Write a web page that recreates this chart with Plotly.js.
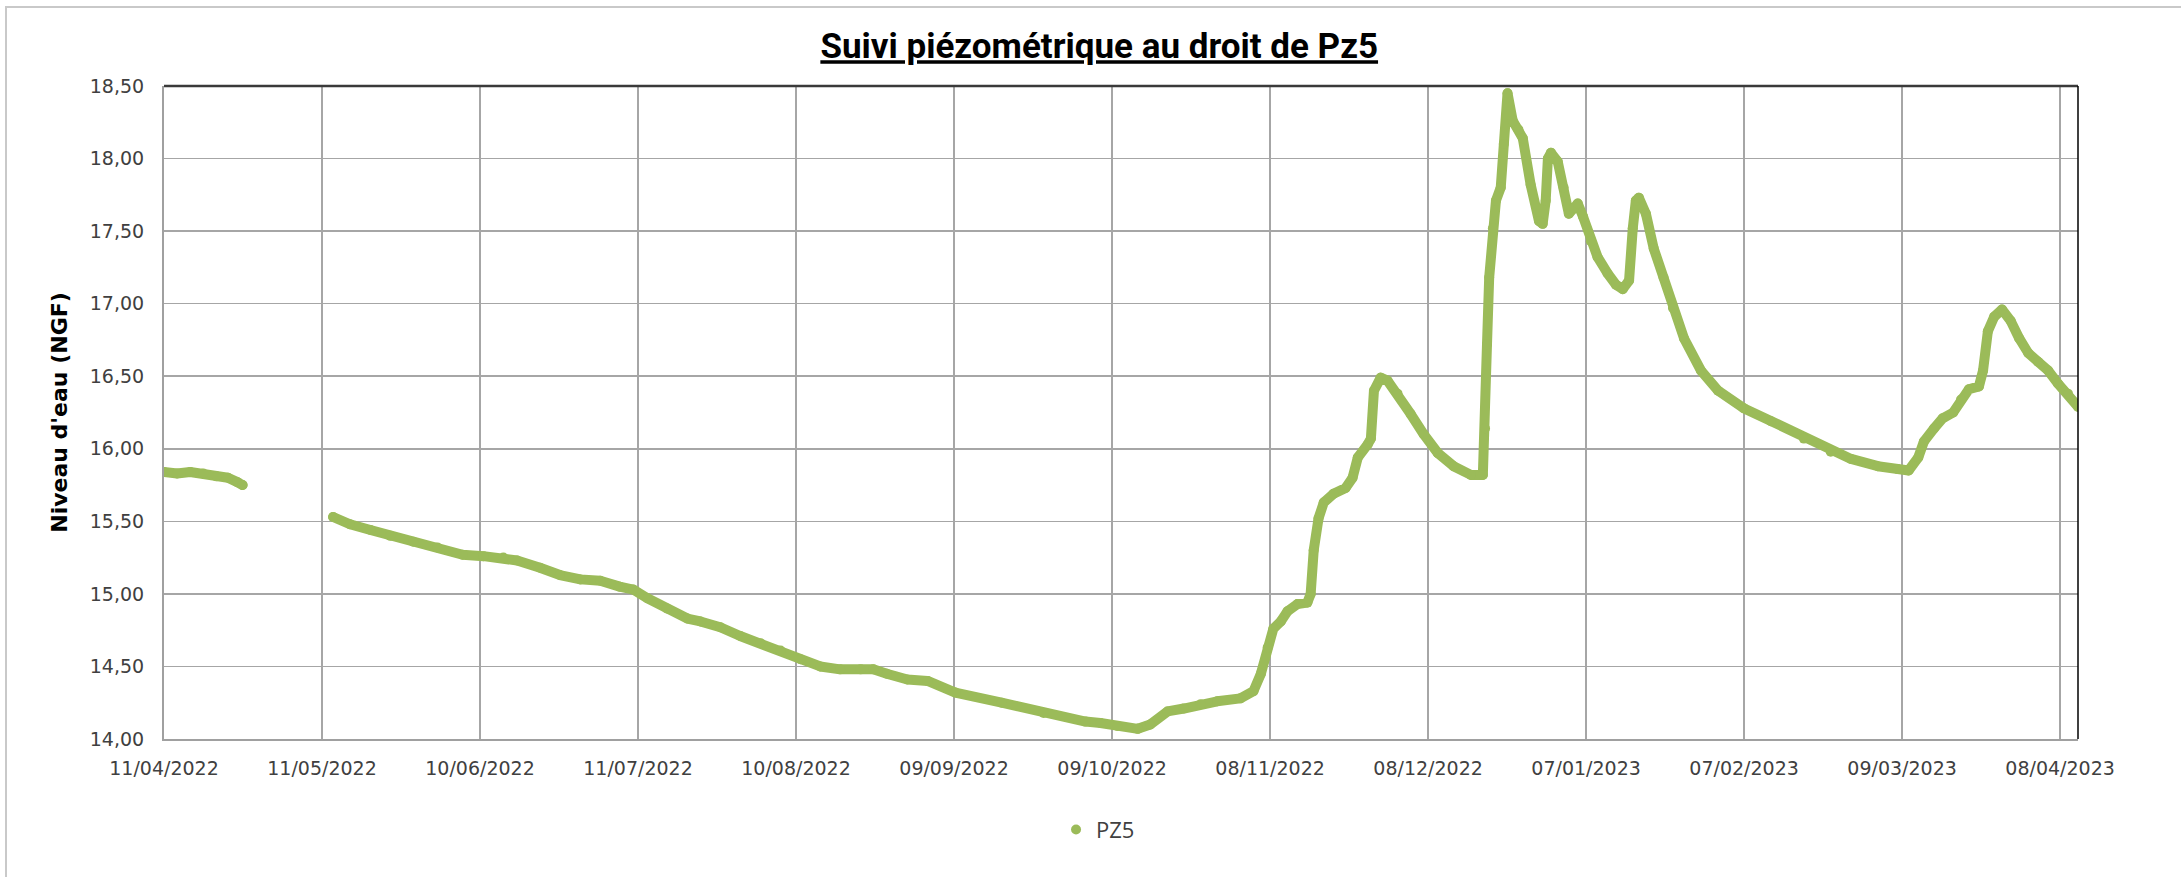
<!DOCTYPE html>
<html>
<head>
<meta charset="utf-8">
<script src="https://cdn.plot.ly/plotly-3.0.1.min.js"></script>
<style>
  html, body { margin: 0; padding: 0; background: #fff; overflow: hidden; }
  #wrap { position: relative; width: 2181px; height: 877px; }
  #chart { position: absolute; left: 0; top: 0; width: 2181px; height: 877px; }
  #frame { position: absolute; left: 5px; top: 6px; width: 2200px; height: 900px;
           border-left: 2px solid #c9c9c9; border-top: 2px solid #c9c9c9; pointer-events: none; }
  .scatterlayer .js-line { stroke-linejoin: round !important; stroke-linecap: round !important; }
</style>
</head>
<body>
<div id="wrap"><div id="chart"></div><div id="frame"></div></div>
<script>
// ---- Data ----
const seriesName = "PZ5";
const chartTitle = "Suivi piézométrique au droit de Pz5";
const yTitle = "Niveau d'eau (NGF)";

const dates = [
  "2022-04-11 00:00","2022-04-13 12:00","2022-04-16 00:00","2022-04-18 12:00","2022-04-21 00:00",
  "2022-04-23 05:00","2022-04-25 00:00","2022-04-26 00:00",
  "2022-05-01 00:00",
  "2022-05-13 07:00","2022-05-16 12:00","2022-05-20 10:00","2022-05-24 05:00","2022-05-28 14:00",
  "2022-06-02 05:00","2022-06-07 00:00","2022-06-11 00:00","2022-06-14 19:00","2022-06-17 10:00",
  "2022-06-21 19:00","2022-06-25 14:00","2022-06-29 12:00","2022-07-03 07:00","2022-07-07 00:00",
  "2022-07-09 14:00","2022-07-12 07:00","2022-07-16 00:00","2022-07-19 22:00","2022-07-22 10:00",
  "2022-07-26 05:00","2022-07-30 00:00","2022-08-02 22:00","2022-08-06 17:00","2022-08-10 12:00",
  "2022-08-14 07:00","2022-08-18 02:00","2022-08-22 00:00","2022-08-24 10:00","2022-08-27 00:00",
  "2022-08-30 22:00","2022-09-03 19:00","2022-09-09 02:00","2022-09-17 22:00","2022-09-25 22:00",
  "2022-10-03 22:00","2022-10-06 19:00","2022-10-10 00:00","2022-10-13 22:00","2022-10-16 07:00",
  "2022-10-19 14:00","2022-10-22 17:00","2022-10-25 22:00","2022-10-29 02:00","2022-11-02 12:00",
  "2022-11-05 00:00","2022-11-06 10:00","2022-11-07 17:00","2022-11-08 19:00","2022-11-10 05:00",
  "2022-11-11 12:00","2022-11-13 10:00","2022-11-15 07:00","2022-11-15 22:00","2022-11-16 12:00",
  "2022-11-17 10:00","2022-11-18 10:00","2022-11-20 07:00","2022-11-22 14:00","2022-11-23 22:00",
  "2022-11-24 22:00","2022-11-26 19:00","2022-11-27 10:00","2022-11-28 00:00","2022-11-29 07:00",
  "2022-11-30 14:00","2022-12-02 12:00","2022-12-05 00:00","2022-12-07 12:00","2022-12-10 05:00",
  "2022-12-13 05:00","2022-12-16 12:00","2022-12-18 19:00","2022-12-19 05:00","2022-12-19 14:00",
  "2022-12-20 00:00","2022-12-20 17:00","2022-12-21 07:00","2022-12-22 05:00","2022-12-22 19:00",
  "2022-12-23 12:00","2022-12-24 12:00","2022-12-25 14:00","2022-12-26 10:00","2022-12-27 22:00",
  "2022-12-29 12:00","2022-12-30 05:00","2022-12-30 19:00","2022-12-31 05:00","2022-12-31 19:00",
  "2023-01-02 02:00","2023-01-03 05:00","2023-01-04 05:00","2023-01-05 05:00","2023-01-05 22:00",
  "2023-01-06 22:00","2023-01-08 10:00","2023-01-09 17:00","2023-01-11 14:00","2023-01-13 05:00",
  "2023-01-14 12:00","2023-01-15 17:00","2023-01-16 10:00","2023-01-17 00:00","2023-01-17 14:00",
  "2023-01-18 22:00","2023-01-20 10:00","2023-01-22 07:00","2023-01-24 02:00","2023-01-26 05:00",
  "2023-01-29 10:00","2023-02-01 17:00","2023-02-06 14:00","2023-02-11 19:00","2023-02-18 02:00",
  "2023-02-23 05:00","2023-02-27 02:00","2023-03-04 05:00","2023-03-08 00:00","2023-03-10 02:00",
  "2023-03-11 22:00","2023-03-13 00:00","2023-03-14 22:00","2023-03-16 14:00","2023-03-18 14:00",
  "2023-03-20 02:00","2023-03-21 14:00","2023-03-23 12:00","2023-03-24 07:00","2023-03-25 05:00",
  "2023-03-26 10:00","2023-03-27 22:00","2023-03-29 14:00","2023-03-31 05:00","2023-04-01 22:00",
  "2023-04-03 19:00","2023-04-05 17:00","2023-04-07 14:00","2023-04-09 12:00","2023-04-11 10:00"
];

const levels = [
  15.84,15.83,15.84,15.83,15.81,
  15.80,15.77,15.75,
  null,
  15.53,15.48,15.44,15.40,15.36,
  15.32,15.27,15.26,15.25,15.23,
  15.18,15.13,15.10,15.09,15.05,
  15.03,14.97,14.90,14.83,14.81,
  14.77,14.71,14.66,14.61,14.55,
  14.50,14.48,14.48,14.48,14.45,
  14.41,14.40,14.32,14.25,14.18,
  14.12,14.11,14.09,14.07,14.10,
  14.19,14.21,14.24,14.26,14.28,
  14.33,14.45,14.63,14.76,14.81,
  14.88,14.93,14.94,15.00,15.30,
  15.52,15.63,15.69,15.73,15.80,
  15.94,16.03,16.07,16.40,16.49,
  16.47,16.38,16.24,16.10,15.97,
  15.88,15.82,15.82,16.14,16.72,
  17.18,17.52,17.71,17.80,18.10,
  18.45,18.26,18.20,18.14,17.82,
  17.57,17.55,17.71,18.00,18.04,
  17.98,17.80,17.62,17.66,17.69,
  17.60,17.43,17.32,17.21,17.13,
  17.10,17.16,17.52,17.71,17.73,
  17.62,17.38,17.18,16.97,16.76,
  16.54,16.40,16.28,16.19,16.07,
  15.98,15.93,15.88,15.86,15.85,
  15.94,16.05,16.14,16.21,16.25,
  16.34,16.41,16.43,16.54,16.81,
  16.91,16.96,16.88,16.76,16.66,
  16.60,16.54,16.45,16.38,16.29
];

const xTickLabels = ["11/04/2022","11/05/2022","10/06/2022","11/07/2022","10/08/2022","09/09/2022",
  "09/10/2022","08/11/2022","08/12/2022","07/01/2023","07/02/2023","09/03/2023","08/04/2023"];
const yTickValues = [14.0, 14.5, 15.0, 15.5, 16.0, 16.5, 17.0, 17.5, 18.0, 18.5];
const yTickLabels = ["14,00","14,50","15,00","15,50","16,00","16,50","17,00","17,50","18,00","18,50"];

// ---- helpers ----
function parseFr(s) { const p = s.split("/"); return Date.UTC(+p[2], +p[1] - 1, +p[0]); }
function fmt(ms) { return new Date(ms).toISOString().slice(0, 19).replace("T", " "); }

// Excel-like evenly spaced major gridlines between first and last labelled dates
const t0 = parseFr(xTickLabels[0]);
const t1 = parseFr(xTickLabels[xTickLabels.length - 1]);
const step = (t1 - t0) / (xTickLabels.length - 1);
const xTickVals = xTickLabels.map((_, i) => fmt(t0 + i * step));
const xRange = [dates[0], dates[dates.length - 1]];

const green = "#9BBB59";

const traces = [
  { x: dates, y: levels, type: "scatter", mode: "lines", connectgaps: false,
    line: { color: green, width: 10 }, showlegend: false, hoverinfo: "skip" },
  { x: dates, y: levels, type: "scatter", mode: "markers", name: seriesName,
    marker: { color: green, size: 10 } }
];

const tickFont = { family: "DejaVu Sans, sans-serif", color: "#404040" };

const layout = {
  width: 2181, height: 877,
  margin: { l: 164, r: 103, t: 86, b: 138 },
  paper_bgcolor: "#ffffff", plot_bgcolor: "#ffffff",
  title: {
    text: chartTitle,
    font: { family: "Roboto, sans-serif", size: 35, color: "#000", weight: "bold", lineposition: "under" },
    xref: "container", x: 0.504, xanchor: "center",
    yref: "container", y: 1 - 46 / 877, yanchor: "middle"
  },
  xaxis: {
    type: "date", range: xRange,
    tickmode: "array", tickvals: xTickVals, ticktext: xTickLabels,
    showgrid: true, gridcolor: "#a6a6a6", gridwidth: 1.5,
    showline: true, linecolor: "#a0a0a0", linewidth: 2,
    ticks: "", ticklabelstandoff: 11,
    tickfont: Object.assign({ size: 19 }, tickFont),
    zeroline: false, fixedrange: true
  },
  yaxis: {
    range: [14, 18.5],
    tickmode: "array", tickvals: yTickValues, ticktext: yTickLabels,
    showgrid: true, gridcolor: "#a6a6a6", gridwidth: 1.5,
    showline: true, linecolor: "#a0a0a0", linewidth: 2,
    ticks: "", ticklabelstandoff: 14,
    tickfont: Object.assign({ size: 19 }, tickFont),
    title: { text: yTitle, standoff: 16,
             font: { family: "DejaVu Sans, sans-serif", size: 22, color: "#000", weight: "bold" } },
    zeroline: false, fixedrange: true
  },
  shapes: [
    { type: "line", xref: "paper", yref: "paper", x0: 0, x1: 1, y0: 1, y1: 1,
      line: { color: "#3a3a3a", width: 2.5 } },
    { type: "line", xref: "paper", yref: "paper", x0: 1, x1: 1, y0: 0, y1: 1,
      line: { color: "#000000", width: 1.5 } }
  ],
  showlegend: true,
  legend: {
    orientation: "h", xref: "paper", x: 0.488, xanchor: "center",
    yref: "paper", y: -0.139, yanchor: "middle",
    font: { family: "Open Sans, sans-serif", size: 22, color: "#404040" },
    bgcolor: "rgba(0,0,0,0)"
  }
};

Plotly.newPlot("chart", traces, layout, { displayModeBar: false, staticPlot: true });
</script>
</body>
</html>
